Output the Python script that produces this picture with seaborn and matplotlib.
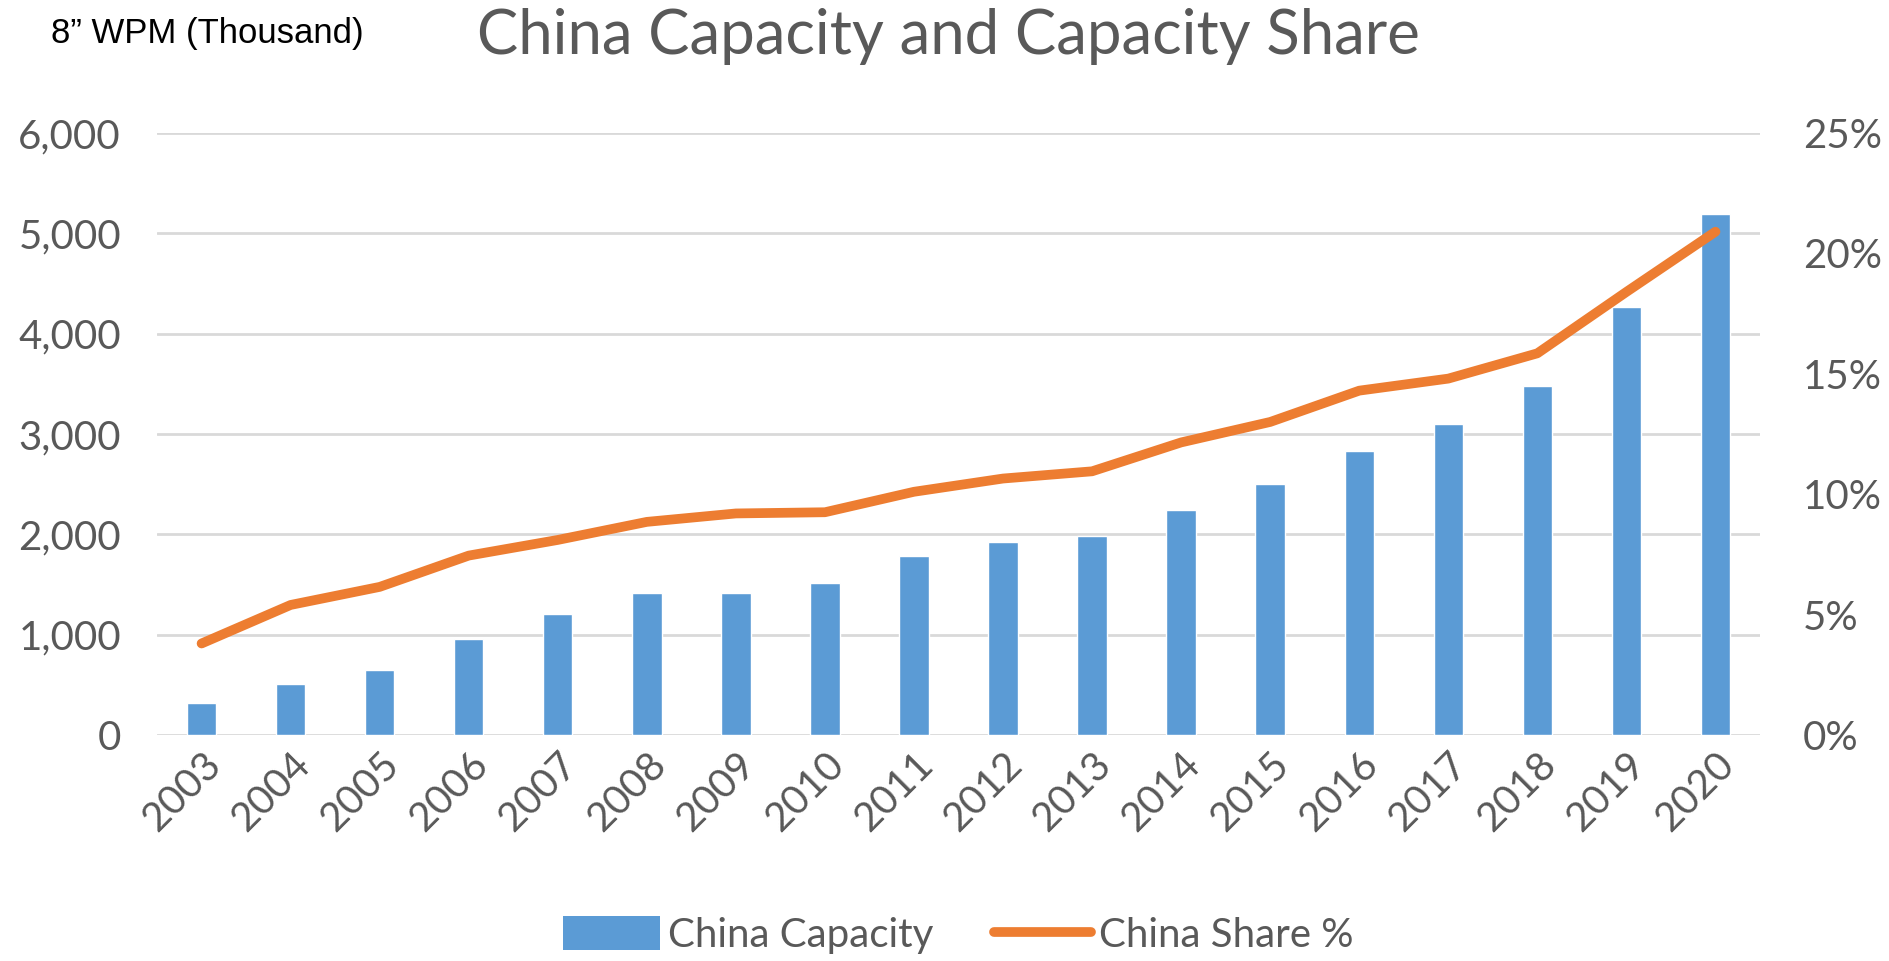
import numpy as np
import pandas as pd
import seaborn as sns
import matplotlib.pyplot as plt
from matplotlib.patches import Patch
from matplotlib.lines import Line2D
from matplotlib.ticker import FuncFormatter, MultipleLocator

years = ["2003", "2004", "2005", "2006", "2007", "2008", "2009", "2010", "2011",
         "2012", "2013", "2014", "2015", "2016", "2017", "2018", "2019", "2020"]
capacity = [320, 510, 650, 960, 1210, 1420, 1420, 1510, 1780,
            1920, 1980, 2240, 2500, 2830, 3100, 3480, 4270, 5190]
share_pct = [3.8, 5.4, 6.15, 7.45, 8.1, 8.85, 9.2, 9.25, 10.1,
             10.65, 10.95, 12.15, 13.0, 14.3, 14.8, 15.85, 18.4, 20.9]

df = pd.DataFrame({"year": years, "capacity": capacity, "share": share_pct})
df["pos"] = np.arange(len(df))

sns.set_theme(style="white")
plt.rcParams["font.family"] = ["Lato", "DejaVu Sans"]

BLUE = "#5b9bd5"
ORANGE = "#ed7d31"
TEXT = "#595959"
GRID = "#d9d9d9"

fig = plt.figure(figsize=(18.9, 9.61), dpi=100)
ax = fig.add_axes([0.0831, 0.2352, 0.8481, 0.6264])

sns.barplot(data=df, x="year", y="capacity", color=BLUE, width=0.33,
            saturation=1, ax=ax, zorder=2)
ax.set_ylim(0, 6000)
ax.set_xlim(-0.5, len(df) - 0.5)
ax.yaxis.set_major_locator(MultipleLocator(1000))
ax.yaxis.set_major_formatter(FuncFormatter(lambda v, _: f"{int(v):,}"))
ax.grid(axis="y", color=GRID, linewidth=2, zorder=0)
ax.set_axisbelow(True)
ax.set_xlabel("")
ax.set_ylabel("")
ax.tick_params(axis="y", labelsize=29, labelcolor=TEXT, length=0, pad=26)
ax.tick_params(axis="x", labelsize=29, labelcolor=TEXT, length=0, pad=8)
for lab in ax.get_xticklabels():
    lab.set_rotation(45)
    lab.set_ha("right")
    lab.set_rotation_mode("anchor")
for s in ax.spines.values():
    s.set_visible(False)

ax2 = ax.twinx()
sns.lineplot(data=df, x="pos", y="share", color=ORANGE, linewidth=7,
             solid_capstyle="round", ax=ax2)
ax2.set_ylim(0, 25)
ax2.yaxis.set_major_locator(MultipleLocator(5))
ax2.yaxis.set_major_formatter(FuncFormatter(lambda v, _: f"{int(v)}%"))
ax2.set_ylabel("")
ax2.set_xlabel("")
ax2.tick_params(axis="y", labelsize=29, labelcolor=TEXT, length=0, pad=31)
for s in ax2.spines.values():
    s.set_visible(False)
ax2.set_xlim(-0.5, len(df) - 0.5)

fig.text(0.502, 0.962, "China Capacity and Capacity Share", ha="center",
         va="center", fontsize=44.5, color=TEXT)
fig.text(0.027, 0.965, "8\u201d WPM (Thousand)", ha="left", va="center",
         fontsize=25, color="black", family=["Liberation Sans", "DejaVu Sans"])

handles = [Patch(facecolor=BLUE, edgecolor="none", label="China Capacity"),
           Line2D([0], [0], color=ORANGE, linewidth=7, label="China Share %")]
fig.legend(handles=handles, loc="center", bbox_to_anchor=(0.507, 0.027),
           ncol=2, frameon=False, fontsize=29, labelcolor=TEXT,
           handlelength=2.4, handleheight=0.9, handletextpad=0.2,
           columnspacing=1.5)

fig.savefig("out.png", dpi=100)
